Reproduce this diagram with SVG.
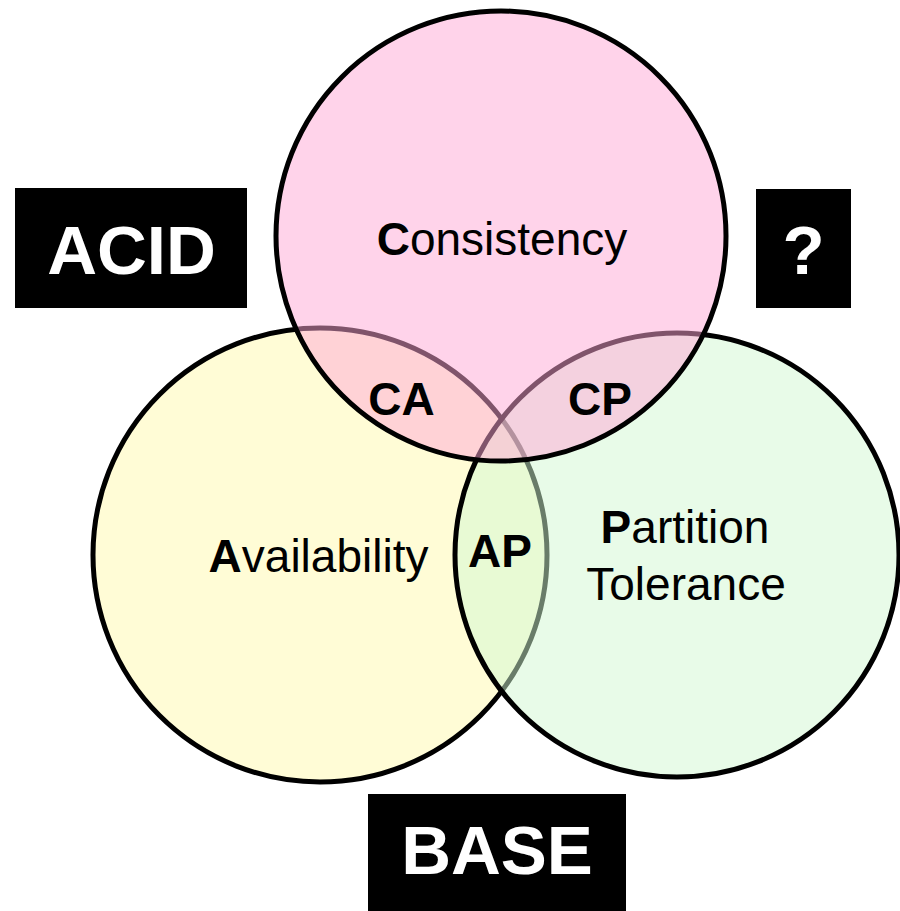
<svg xmlns="http://www.w3.org/2000/svg" width="900" height="911" viewBox="0 0 900 911">
<style>
.c{stroke:#000;stroke-width:5}
.t{font-family:"Liberation Sans",Arial,sans-serif;font-size:46px;fill:#000;text-anchor:middle}
.b{font-weight:bold}
.box{fill:#000}
.bt{font-family:"Liberation Sans",Arial,sans-serif;font-size:69px;font-weight:bold;fill:#fff;text-anchor:middle}
</style>
<rect width="900" height="911" fill="#fff"/>
<g id="availability">
<circle class="c" cx="320" cy="555" r="227" fill="#fffcd6"/>
<text class="t" x="318.5" y="572"><tspan class="b">A</tspan>vailability</text>
</g>
<g id="partition">
<circle class="c" cx="677" cy="555" r="222" fill="#d1f7d1" fill-opacity="0.5"/>
<text class="t" x="685" y="543"><tspan class="b">P</tspan>artition</text>
<text class="t" x="686" y="600">Tolerance</text>
</g>
<g id="consistency">
<circle class="c" cx="501" cy="236" r="225" fill="#ffa7d5" fill-opacity="0.5"/>
<text class="t" x="502" y="255"><tspan class="b">C</tspan>onsistency</text>
</g>
<g id="ca"><text class="t b" x="401.5" y="415">CA</text></g>
<g id="cp"><text class="t b" x="600" y="415">CP</text></g>
<g id="ap"><text class="t b" x="500" y="567">AP</text></g>
<g id="acid">
<rect class="box" x="15" y="188" width="232" height="120"/>
<text class="bt" x="131.5" y="274">ACID</text>
</g>
<g id="question">
<rect class="box" x="756" y="189" width="95" height="119"/>
<text class="bt" x="803.5" y="274">?</text>
</g>
<g id="base">
<rect class="box" x="368" y="794" width="258" height="117"/>
<text class="bt" x="497" y="874">BASE</text>
</g>
</svg>
